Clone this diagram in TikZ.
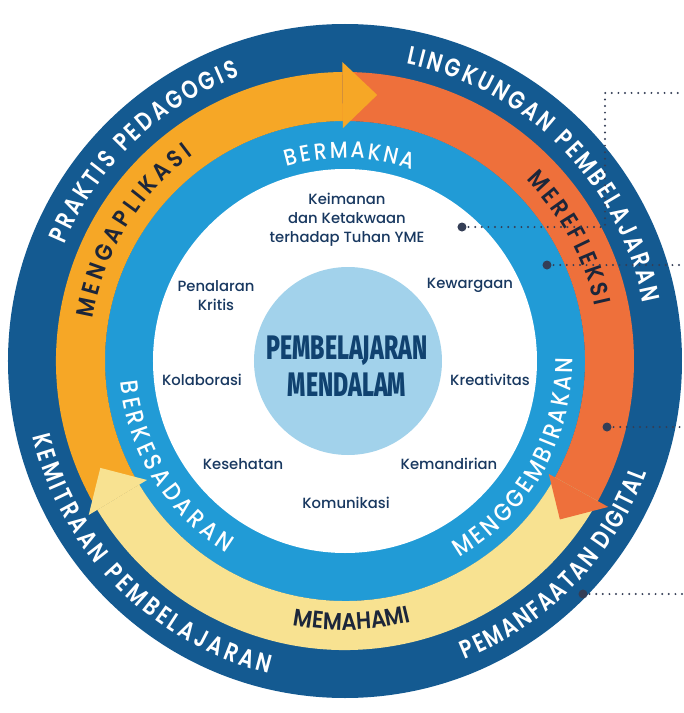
\documentclass[tikz,border=0pt]{standalone}
\usepackage{fontspec}
\usetikzlibrary{decorations.text}
\setmainfont{Poppins}
\IfFontExistsTF{Poppins Medium}{\newfontfamily\innerfont{Poppins Medium}\newfontfamily\ringfont[FakeStretch=0.88]{Poppins Medium}}{\newfontfamily\innerfont{Poppins}\newfontfamily\ringfont[FakeStretch=0.88]{Poppins}}
\IfFontExistsTF{Poppins SemiBold}{\newfontfamily\darkfont[FakeStretch=0.88]{Poppins SemiBold}\newfontfamily\outerfont[FakeStretch=0.80]{Poppins SemiBold}}{\newfontfamily\darkfontbase[FakeStretch=0.88]{Poppins}\newcommand\darkfont{\darkfontbase\bfseries}\newfontfamily\outerfontbase[FakeStretch=0.80]{Poppins}\newcommand\outerfont{\outerfontbase\bfseries}}
\IfFontExistsTF{Fira Sans ExtraBold}{\newfontfamily\titlefont[FakeStretch=0.68]{Fira Sans ExtraBold}}{\newfontfamily\titlefontbase[FakeStretch=0.68]{Fira Sans}\newcommand\titlefont{\titlefontbase\bfseries}}
\definecolor{darkring}{RGB}{20,90,145}
\definecolor{midblue}{RGB}{33,155,214}
\definecolor{coreblue}{RGB}{162,210,235}
\definecolor{orangeA}{RGB}{246,167,38}
\definecolor{redA}{RGB}{238,112,59}
\definecolor{yellowA}{RGB}{248,226,145}
\definecolor{navytext}{RGB}{24,56,96}
\definecolor{titlenavy}{RGB}{16,66,112}
\definecolor{darktext}{RGB}{28,38,58}
\definecolor{dotc}{RGB}{52,62,86}
\tikzset{
  innertext/.style={align=center,text=navytext,font=\innerfont\fontsize{14.8}{19}\selectfont,inner sep=0pt},
  coredisk/.style={circle,fill=coreblue,minimum size=188pt,inner sep=0pt},
  coretext/.style={align=center,text=titlenavy,inner sep=0pt,font=\titlefont\fontsize{34}{37}\selectfont},
  dotmark/.style={circle,fill=dotc,minimum size=9pt,inner sep=0pt},
  leader/.style={draw=dotc,line width=2.2pt,line cap=round,dash pattern=on 0pt off 6.6pt},
  whitearc/.style={decorate,decoration={text along path,text align=fit to path,text color=white,text={|\outerfont\fontsize{25.5}{25.5}\selectfont|#1}}},
  bluearc/.style={decorate,decoration={text along path,text align=fit to path,text color=white,text={|\ringfont\fontsize{23}{23}\selectfont|#1}}},
  bluearcbig/.style={decorate,decoration={text along path,text align=fit to path,text color=white,text={|\ringfont\fontsize{24.5}{24.5}\selectfont|#1}}},
  darkarc/.style={decorate,decoration={text along path,text align=fit to path,text color=darktext,text={|\darkfont\fontsize{24}{24}\selectfont|#1}}},
  darkarcmid/.style={decorate,decoration={text along path,text align=center,text color=darktext,text={|\darkfont\fontsize{24}{24}\selectfont|#1}}}
}
\begin{document}
\begin{tikzpicture}
\useasboundingbox (-345pt,-352pt) rectangle (339pt,361pt);
\fill[white] (-345pt,-352pt) rectangle (339pt,361pt);
% rings
\fill[darkring] (0,0) circle[radius=337pt];
\fill[midblue] (0,0) circle[radius=240pt];
\fill[white] (0,0) circle[radius=192pt];
% arrow bodies
\fill[orangeA] (211:289pt) arc[start angle=211,end angle=90.5,radius=289pt] -- (90.5:240pt) arc[start angle=90.5,end angle=211,radius=240pt] -- cycle;
\fill[redA] (90.5:289pt) arc[start angle=90.5,end angle=-29,radius=289pt] -- (-29:240pt) arc[start angle=-29,end angle=90.5,radius=240pt] -- cycle;
\fill[yellowA] (-29:289pt) arc[start angle=-29,end angle=-149,radius=289pt] -- (-149:240pt) arc[start angle=-149,end angle=-29,radius=240pt] -- cycle;
% arrow heads
\fill[orangeA] (90.5:233pt) -- (90.5:299pt) -- (83.1:268pt) -- cycle;
\fill[redA] (-29:233pt) -- (-29:301pt) -- (-36.4:267pt) -- cycle;
\fill[yellowA] (211:231pt) -- (211:299pt) -- (203.6:267pt) -- cycle;
% outer ring texts
\path[whitearc={PRAKTIS PEDAGOGIS}] (157.5:303.5pt) arc[start angle=157.5,end angle=110.3,radius=303.5pt];
\path[whitearc={LINGKUNGAN PEMBELAJARAN}] (78.4:303.5pt) arc[start angle=78.4,end angle=11,radius=303.5pt];
\path[whitearc={PEMANFAATAN DIGITAL}] (-68.1:321.5pt) arc[start angle=-68.1,end angle=-20.3,radius=321.5pt];
\path[whitearc={KEMITRAAN PEMBELAJARAN}] (193.5:321.5pt) arc[start angle=193.5,end angle=256.3,radius=321.5pt];
% arrow ring texts
\path[darkarc={MENGAPLIKASI}] (170.5:256pt) arc[start angle=170.5,end angle=126.5,radius=256pt];
\path[darkarc={MEREFLEKSI}] (45:256pt) arc[start angle=45,end angle=12.3,radius=256pt];
\path[darkarcmid={MEMAHAMI}] (251.5:269pt) arc[start angle=251.5,end angle=291.5,radius=269pt];
% blue ring texts
\path[bluearc={BERMAKNA}] (106.6:203pt) arc[start angle=106.6,end angle=70.6,radius=203pt];
\path[bluearcbig={BERKESADARAN}] (185.3:225.5pt) arc[start angle=185.3,end angle=238.2,radius=225.5pt];
\path[bluearcbig={MENGGEMBIRAKAN}] (-59.8:227.5pt) arc[start angle=-59.8,end angle=0.8,radius=227.5pt];
% centre
\node[coredisk] (core) at (3pt,0pt) {};
\node[coretext] (title) at (2pt,-5pt) {PEMBELAJARAN\\MENDALAM};
% inner values
\node[innertext] (iman) at (2pt,141pt) {Keimanan\\dan Ketakwaan\\terhadap Tuhan YME};
\node[innertext] (nalar) at (-129pt,65.5pt) {Penalaran\\Kritis};
\node[innertext] (warga) at (125pt,76pt) {Kewargaan};
\node[innertext] (kolab) at (-143pt,-19pt) {Kolaborasi};
\node[innertext] (kreatif) at (145pt,-19pt) {Kreativitas};
\node[innertext] (sehat) at (-102pt,-103pt) {Kesehatan};
\node[innertext] (mandiri) at (104pt,-103pt) {Kemandirian};
\node[innertext] (komun) at (1pt,-142pt) {Komunikasi};
% leaders
\node[dotmark] (pA) at (117pt,134pt) {};
\coordinate (qA1) at (260pt,134pt);
\coordinate (qA2) at (260pt,268pt);
\coordinate (qA3) at (339pt,268pt);
\draw[leader] (pA.center) -- (qA1) -- (qA2) -- (qA3);
\node[dotmark] (pB) at (202pt,96pt) {};
\coordinate (qB) at (339pt,96pt);
\draw[leader] (pB.center) -- (qB);
\node[dotmark] (pC) at (262pt,-66pt) {};
\coordinate (qC) at (339pt,-66pt);
\draw[leader] (pC.center) -- (qC);
\node[dotmark] (pD) at (238pt,-233pt) {};
\coordinate (qD) at (339pt,-233pt);
\draw[leader] (pD.center) -- (qD);
\end{tikzpicture}
\end{document}
